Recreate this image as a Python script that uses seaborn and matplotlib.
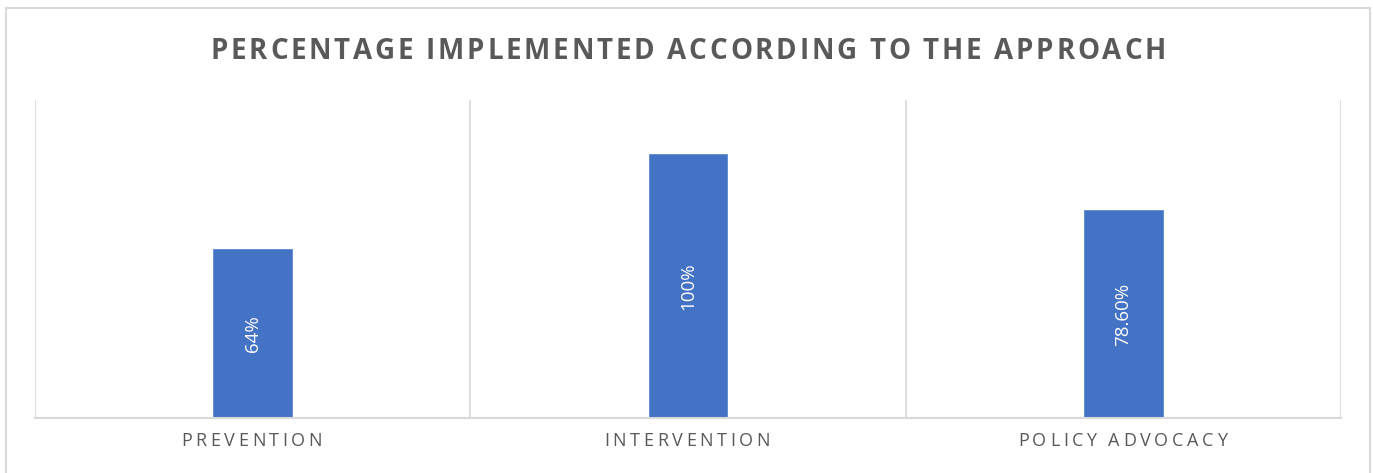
import matplotlib
matplotlib.use("Agg")
import matplotlib.pyplot as plt
import matplotlib.patches as mpatches
from matplotlib.font_manager import FontProperties
import seaborn as sns
import pandas as pd

# Chart data
categories = ["PREVENTION", "INTERVENTION", "POLICY ADVOCACY"]
values = [64, 100, 78.6]
value_labels = ["64%", "100%", "78.60%"]
title = "PERCENTAGE IMPLEMENTED ACCORDING TO THE APPROACH"

W, H = 1373, 473
DPI = 100
BAR_COLOR = "#4472C4"
TEXT_COLOR = "#595959"
GRID_COLOR = "#D9D9D9"

sns.set_theme(style="white")
plt.rcParams["font.family"] = ["Open Sans", "DejaVu Sans"]

fig = plt.figure(figsize=(W / DPI, H / DPI), dpi=DPI)
fig.patch.set_facecolor("white")

# plot area in pixel terms
left, right, top, bottom = 35, 1341, 100, 417.5
ax = fig.add_axes([left / W, 1 - bottom / H, (right - left) / W, (bottom - top) / H])

df = pd.DataFrame({"category": categories, "value": values})
sns.barplot(data=df, x="category", y="value", color=BAR_COLOR, saturation=1,
            width=0.18, ax=ax, edgecolor="#5B86D0", linewidth=0.6)

ax.set_xlim(-0.5, len(categories) - 0.5)
ax.set_ylim(0, 120.5)
ax.set_xlabel("")
ax.set_ylabel("")
ax.set_xticks([])
ax.set_yticks([])
for side in ["top", "left", "right"]:
    ax.spines[side].set_visible(False)
ax.spines["bottom"].set_color(GRID_COLOR)
ax.spines["bottom"].set_linewidth(1.5)

# vertical separators between categories
for xb in [i - 0.5 for i in range(len(categories) + 1)]:
    ax.axvline(xb, color=GRID_COLOR, linewidth=1.2, zorder=0)

# value labels inside bars
for i, (v, lab) in enumerate(zip(values, value_labels)):
    ax.text(i, v / 2, lab, rotation=90, ha="center", va="center",
            color="white", fontsize=13.5, fontfamily="Open Sans")

renderer = fig.canvas.get_renderer()


def spaced_text(x_px, baseline_px, s, tracking, size, weight="normal"):
    """Draw text centred at x_px with extra letter spacing (pixels, y from top)."""
    fp = FontProperties(family="Open Sans", size=size, weight=weight)
    widths = []
    for c in s:
        if c == " ":
            w = renderer.get_text_width_height_descent("a a", fp, ismath=False)[0] - \
                renderer.get_text_width_height_descent("aa", fp, ismath=False)[0]
        else:
            w = renderer.get_text_width_height_descent(c, fp, ismath=False)[0]
        widths.append(w)
    total = sum(widths) + tracking * (len(s) - 1)
    xpos = x_px - total / 2
    for c, w in zip(s, widths):
        if c != " ":
            fig.text(xpos / W, 1 - baseline_px / H, c, fontproperties=fp,
                     color=TEXT_COLOR, ha="left", va="baseline")
        xpos += w + tracking


# title
spaced_text(688, 59, title, 2.75, 20, weight="bold")

# category labels under each bar
for i, cat in enumerate(categories):
    xd = ax.transData.transform((i, 0))[0]
    spaced_text(xd - 1, 446, cat, 3.6, 13)

# outer chart border
fig.patches.append(mpatches.Rectangle((6 / W, -0.1), (1370 - 6) / W, 1.1 - 8 / H,
                                      transform=fig.transFigure, fill=False,
                                      edgecolor=GRID_COLOR, linewidth=1.5))

fig.savefig("out.png", dpi=DPI)
